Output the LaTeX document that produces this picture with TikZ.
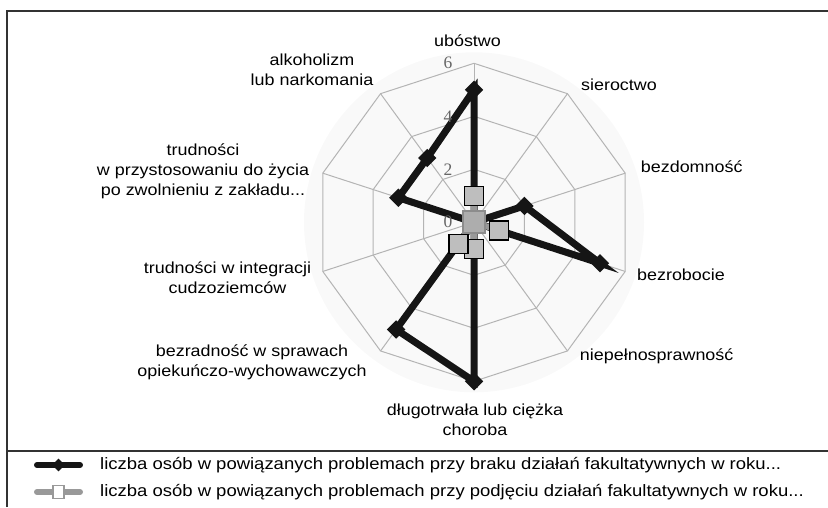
\documentclass[tikz,border=0pt]{standalone}
\usepackage{fontspec}
\setmainfont{Liberation Sans}[FakeStretch=1.12]
\newfontfamily\numfont{Liberation Serif}
\usetikzlibrary{calc}
\definecolor{gridc}{HTML}{B4B4B4}
\definecolor{blk}{HTML}{151515}
\definecolor{grl}{HTML}{999999}
\definecolor{sqf}{HTML}{BEBEBE}
\definecolor{frame}{HTML}{333333}
\begin{document}
\begin{tikzpicture}[x=1pt,y=1pt,
  lbl/.style={font=\fontsize{16}{20}\selectfont, align=center, inner sep=0pt, text=black},
  leg/.style={font=\fontsize{16.5}{20}\selectfont, anchor=west, inner sep=0pt, text=black},
  tick/.style={font=\numfont\fontsize{17.5}{20}\selectfont, text=black!60, inner sep=0pt},
  blkline/.style={blk, line width=7pt, line join=miter},
  grayline/.style={grl, line width=6pt},
  diam/.style={rectangle, fill=blk, rotate=45, minimum size=13pt, inner sep=0pt},
  sq/.style={rectangle, fill=sqf, draw=black, line width=1.4pt, minimum size=19pt, inner sep=0pt},
  censq/.style={rectangle, fill=black!32, draw=black!45, line width=2.2pt, minimum size=22pt, inner sep=0pt},
  gridline/.style={gridc, line width=1pt}]
\useasboundingbox (0,0) rectangle (828,-507);
% frame
\draw[frame, line width=2pt] (7,-507) -- (7,-10.5) -- (828,-10.5);
\draw[frame, line width=2pt] (7,-451) -- (828,-451);
\coordinate (C) at (474,-222.3);
% faint glow
\fill[black!2.5] (C) circle (170);
\begin{scope}[shift={(C)}]
  % rings
  \foreach \r in {53,106,159}{
    \draw[gridline] (90:\r) \foreach \i in {1,...,9}{ -- ({90-36*\i}:\r)} -- cycle;
  }
  % spokes
  \foreach \i in {0,...,9}{
    \draw[gridline] (0,0) -- ({90-36*\i}:159);
  }
  % data points
  \foreach \v [count=\i from 0] in {5,0,2,5,0,6,5,0,3,3}{
    \coordinate (b\i) at ({90-36*\i}:{\v*26.5});
  }
  \foreach \v [count=\i from 0] in {1,0,0,1,0,1,1,0,0,0}{
    \coordinate (g\i) at ({90-36*\i}:{\v*26.5});
  }
\end{scope}
% black series
\draw[blkline] (b0) -- (b1) -- (b2) -- (b3) -- (b4) -- (b5) -- (b6) -- (b7) -- (b8) -- (b9) -- cycle;
\foreach \i in {0,...,9}{ \node[diam] (mb\i) at (b\i) {}; }
% gray series
\draw[grayline] (g0) -- (g1) -- (g2) -- (g3) -- (g4) -- (g5) -- (g6) -- (g7) -- (g8) -- (g9) -- cycle;
\node[censq] (mc) at (C) {};
\foreach \i in {0,3,5,6}{ \node[sq] (mg\i) at (g\i) {}; }
% tick labels
\node[tick] (t6) at (448,-63) {6};
\node[tick] (t4) at (448,-116.5) {4};
\node[tick] (t2) at (448,-169.5) {2};
\node[tick] (t0) at (448,-222) {0};
% category labels
\node[lbl] (l0) at (467.5,-40.7) {ubóstwo};
\node[lbl] (l1) at (619,-85) {sieroctwo};
\node[lbl] (l2) at (691.7,-166.7) {bezdomność};
\node[lbl] (l3) at (681,-275) {bezrobocie};
\node[lbl] (l4) at (656.7,-356.7) {niepełnosprawność};
\node[lbl] (l5) at (475,-419.7) {długotrwała lub ciężka\\choroba};
\node[lbl] (l6) at (252,-362.3) {bezradność w sprawach\\opiekuńczo-wychowawczych};
\node[lbl] (l7) at (227.5,-277.5) {trudności w integracji\\cudzoziemców};
\node[lbl] (l8) at (203,-171.7) {trudności\\w przystosowaniu do życia\\po zwolnieniu z zakładu...};
\node[lbl] (l9) at (312,-70) {alkoholizm\\lub narkomania};
% legend
\coordinate (k1a) at (37,-465);
\coordinate (k1b) at (80,-465);
\coordinate (k2a) at (37,-492);
\coordinate (k2b) at (80,-492);
\draw[blk, line width=6pt, line cap=round] (k1a) -- (k1b);
\node[diam, minimum size=9pt] (kd1) at ($(k1a)!0.5!(k1b)$) {};
\draw[grl, line width=6pt, line cap=round] (k2a) -- (k2b);
\node[rectangle, fill=white, draw=grl, line width=1.2pt, minimum width=11pt, minimum height=13pt, inner sep=0pt] (kd2) at ($(k2a)!0.5!(k2b)$) {};
\node[leg] (tx1) at (100,-465) {liczba osób w powiązanych problemach przy braku działań fakultatywnych w roku...};
\node[leg] (tx2) at (100,-492) {liczba osób w powiązanych problemach przy podjęciu działań fakultatywnych w roku...};
\end{tikzpicture}
\end{document}
